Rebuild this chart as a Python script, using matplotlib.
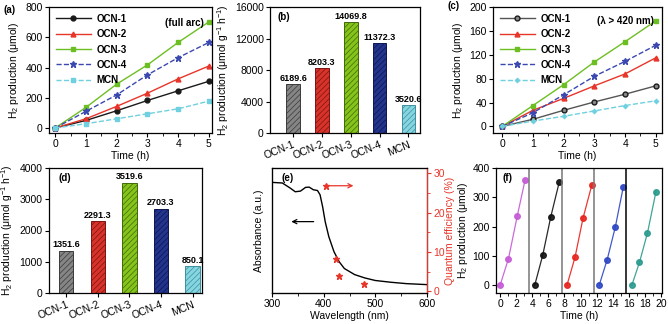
import numpy as np
import matplotlib
matplotlib.use("Agg")
import matplotlib.pyplot as plt

plt.rcParams['font.family'] = ['Liberation Sans', 'DejaVu Sans']
plt.rcParams['mathtext.fontset'] = 'custom'
plt.rcParams['mathtext.rm'] = 'Liberation Sans'
plt.rcParams['mathtext.it'] = 'Liberation Sans:italic'
plt.rcParams['font.size'] = 7.5
plt.rcParams['hatch.linewidth'] = 0.5

# ---- data ----
samples = ['OCN-1', 'OCN-2', 'OCN-3', 'OCN-4', 'MCN']
time_h = [0, 1, 2, 3, 4, 5]

full_arc = {
    'OCN-1': [0, 50, 114, 182, 246, 309],
    'OCN-2': [0, 61, 143, 230, 325, 410],
    'OCN-3': [0, 136, 290, 417, 566, 702],
    'OCN-4': [0, 110, 219, 351, 465, 566],
    'MCN':   [0, 28, 61, 94, 127, 178],
}
visible = {
    'OCN-1': [0, 12, 27, 41, 54, 68],
    'OCN-2': [0, 27, 47, 68, 88, 115],
    'OCN-3': [0, 35, 70, 108, 142, 177],
    'OCN-4': [0, 23, 53, 84, 109, 136],
    'MCN':   [0, 9, 17, 26, 35, 43],
}
rate_full = [6189.6, 8203.3, 14069.8, 11372.3, 3520.6]
rate_vis = [1351.6, 2291.3, 3519.6, 2703.3, 850.1]

wavelength = [300, 320, 335, 345, 355, 365, 372, 380, 388, 393, 398, 403,
              410, 420, 430, 440, 460, 480, 500, 530, 560, 600]
absorbance = [0.885, 0.88, 0.84, 0.81, 0.815, 0.845, 0.847, 0.826, 0.82,
              0.786, 0.69, 0.57, 0.45, 0.33, 0.25, 0.196, 0.147, 0.12,
              0.10, 0.086, 0.075, 0.067]
qe_wl = [423, 430, 478]
qe_val = [8.2, 3.8, 1.8]

cycle_times = [[0, 1.05, 2.15, 3.1], [4.3, 5.3, 6.3, 7.35], [8.3, 9.3, 10.3, 11.4],
               [12.3, 13.3, 14.3, 15.3], [16.35, 17.3, 18.3, 19.35]]
cycle_h2 = [[0, 91, 238, 358], [0, 103, 234, 352], [0, 95, 229, 343],
            [0, 88, 198, 336], [0, 78, 179, 319]]
dividers = [3.55, 7.7, 11.6, 15.65]

# ---- styles ----
line_colors = {'OCN-1': '#1a1a1a', 'OCN-2': '#e8352a', 'OCN-3': '#6cbf22',
               'OCN-4': '#3a48b0', 'MCN': '#6fd0df'}
markers_a = {'OCN-1': 'o', 'OCN-2': '^', 'OCN-3': 's', 'OCN-4': '*', 'MCN': 's'}
markers_c = {'OCN-1': 'o', 'OCN-2': '^', 'OCN-3': 's', 'OCN-4': '*', 'MCN': (4, 1, 0)}
styles = {'OCN-1': '-', 'OCN-2': '-', 'OCN-3': '-', 'OCN-4': '--', 'MCN': '--'}
bar_fc = ['#858585', '#d8332a', '#86c41c', '#23348c', '#86d6e2']
bar_ec = ['#3a3a3a', '#7a1410', '#3f6a08', '#0c1550', '#3d8f9c']
cycle_colors = ['#c55ad6', '#111111', '#e8231d', '#2d46c4', '#2a9a8e']

W, H = 668, 324
fig = plt.figure(figsize=(W / 100, H / 100), dpi=100)


def px_axes(l, t, r, b):
    return fig.add_axes([l / W, 1 - b / H, (r - l) / W, (b - t) / H])


def style_ax(ax):
    ax.tick_params(direction='out', length=3, width=0.8, labelsize=7.5, pad=1.5)
    ax.tick_params(which='minor', length=2, width=0.6)
    for s in ax.spines.values():
        s.set_linewidth(0.9)


def ms_for(m):
    return 5 if m == '*' else 3.5


# (a)
ax = px_axes(49, 7, 212, 133)
for s in samples:
    ax.plot(time_h, full_arc[s], styles[s], color=line_colors[s], marker=markers_a[s],
            ms=ms_for(markers_a[s]), lw=1.0, label=s)
ax.set_xlim(-0.2, 5.1)
ax.set_ylim(-33, 800)
ax.set_xticks(range(6))
ax.set_xticks(np.arange(0.5, 5, 1), minor=True)
ax.set_yticks([0, 200, 400, 600, 800])
ax.set_xlabel('Time (h)', labelpad=1)
ax.set_ylabel('H$_2$ production (μmol)', labelpad=3)
style_ax(ax)
ax.legend(loc='upper left', frameon=False, prop={'weight': 'bold', 'size': 7},
          handlelength=3.6, labelspacing=0.55, borderaxespad=0.3, handletextpad=0.6)
ax.text(0.95, 0.91, '(full arc)', transform=ax.transAxes, ha='right', va='top',
        fontsize=7, fontweight='bold')
fig.text(3 / W, 1 - 10 / H, '(a)', fontsize=7, fontweight='bold', va='center')

# (b)
ax = px_axes(270, 7, 420, 133)
xb = np.arange(len(samples))
for i in range(len(samples)):
    ax.bar(xb[i], rate_full[i], width=0.47, color=bar_fc[i], edgecolor=bar_ec[i],
           hatch='//////', lw=0.7)
    ax.text(xb[i], rate_full[i] + 200, f'{rate_full[i]:.1f}', ha='center', va='bottom',
            fontsize=6.5, fontweight='bold')
ax.set_xlim(-0.8, 4.4)
ax.set_ylim(0, 16000)
ax.set_yticks([0, 4000, 8000, 12000, 16000])
ax.set_xticks(xb)
ax.set_xticklabels(samples, rotation=22, ha='right', rotation_mode='anchor')
ax.set_ylabel('H$_2$ production (μmol g$^{-1}$ h$^{-1}$)', labelpad=3)
style_ax(ax)
ax.text(0.05, 0.96, '(b)', transform=ax.transAxes, fontsize=7, fontweight='bold', va='top')

# (c)
ax = px_axes(493, 7, 662, 133)
for s in samples:
    mfc = '#8a8a8a' if s == 'OCN-1' else line_colors[s]
    lc = '#555555' if s == 'OCN-1' else line_colors[s]
    ax.plot(time_h, visible[s], styles[s], color=lc, marker=markers_c[s], mfc=mfc,
            mec=line_colors[s], ms=ms_for(markers_c[s]), lw=1.0, label=s)
ax.set_xlim(-0.3, 5.2)
ax.set_ylim(-11, 200)
ax.set_xticks(range(6))
ax.set_xticks(np.arange(0.5, 5, 1), minor=True)
ax.set_yticks([0, 40, 80, 120, 160, 200])
ax.set_xlabel('Time (h)', labelpad=1)
ax.set_ylabel('H$_2$ production (μmol)', labelpad=3)
style_ax(ax)
ax.legend(loc='upper left', frameon=False, prop={'weight': 'bold', 'size': 7},
          handlelength=3.6, labelspacing=0.55, borderaxespad=0.3, handletextpad=0.6)
ax.text(0.95, 0.93, '(λ > 420 nm)', transform=ax.transAxes, ha='right', va='top',
        fontsize=7, fontweight='bold')
fig.text(447 / W, 1 - 6 / H, '(c)', fontsize=7, fontweight='bold', va='center')

# (d)
ax = px_axes(49, 168, 202, 293)
for i in range(len(samples)):
    ax.bar(xb[i], rate_vis[i], width=0.45, color=bar_fc[i], edgecolor=bar_ec[i],
           hatch='//////', lw=0.7)
    ax.text(xb[i], rate_vis[i] + 60, f'{rate_vis[i]:.1f}', ha='center', va='bottom',
            fontsize=6.5, fontweight='bold')
ax.set_xlim(-0.55, 4.3)
ax.set_ylim(0, 4000)
ax.set_yticks([0, 1000, 2000, 3000, 4000])
ax.set_xticks(xb)
ax.set_xticklabels(samples, rotation=22, ha='right', rotation_mode='anchor')
ax.set_ylabel('H$_2$ production (μmol g$^{-1}$ h$^{-1}$)', labelpad=3)
style_ax(ax)
ax.text(0.06, 0.96, '(d)', transform=ax.transAxes, fontsize=7, fontweight='bold', va='top')

# (e)
ax = px_axes(272, 168, 427, 293)
ax.plot(wavelength, absorbance, color='black', lw=1.0)
ax.set_xlim(300, 600)
ax.set_ylim(0, 1)
ax.set_xticks([300, 400, 500, 600])
ax.set_xticks([350, 450, 550], minor=True)
ax.set_yticks([])
ax.set_xlabel('Wavelength (nm)', labelpad=1)
ax.set_ylabel('Absorbance (a.u.)', labelpad=6)
style_ax(ax)
ax.text(0.06, 0.96, '(e)', transform=ax.transAxes, fontsize=7, fontweight='bold', va='top')
ax2 = ax.twinx()
ax2.plot(qe_wl, qe_val, '*', color='#e8352a', ms=5, ls='none')
ax2.plot([404.5], [26.8], '*', color='#e8352a', ms=5)
ax2.annotate('', xy=(463, 26.8), xytext=(405, 26.8),
             arrowprops=dict(arrowstyle='->', color='#e8352a', lw=0.9))
ax2.annotate('', xy=(332, 17.7), xytext=(386, 17.7),
             arrowprops=dict(arrowstyle='->', color='black', lw=0.9))
ax2.set_ylim(-0.4, 31.3)
ax2.set_yticks([0, 10, 20, 30])
ax2.set_yticks([5, 15, 25], minor=True)
ax2.tick_params(axis='y', colors='#e8352a', labelsize=7.5, length=3, pad=1.5)
ax2.tick_params(axis='y', which='minor', colors='#e8352a', length=2)
ax2.spines['right'].set_color('#e8352a')
ax2.set_ylabel('Quantum efficiency (%)', color='#e8352a', labelpad=0)

# (f)
ax = px_axes(496, 168, 662, 293)
for t, v, c in zip(cycle_times, cycle_h2, cycle_colors):
    ax.plot(t, v, '-', color=c, lw=0.9, marker='o', ms=4, mfc=c, mec=c, alpha=0.9)
for i, d in enumerate(dividers):
    ax.axvline(d, color='#777777' if i < 3 else 'black', lw=1.1)
ax.set_xlim(-0.5, 20.1)
ax.set_ylim(-26, 400)
ax.set_xticks(range(0, 21, 2))
ax.set_xticks(range(1, 20, 2), minor=True)
ax.set_yticks([0, 100, 200, 300, 400])
ax.set_xlabel('Time (h)', labelpad=1)
ax.set_ylabel('H$_2$ production (μmol)', labelpad=1.5)
style_ax(ax)
ax.text(0.04, 0.96, '(f)', transform=ax.transAxes, fontsize=7, fontweight='bold', va='top')

fig.savefig('out.png', dpi=100)
